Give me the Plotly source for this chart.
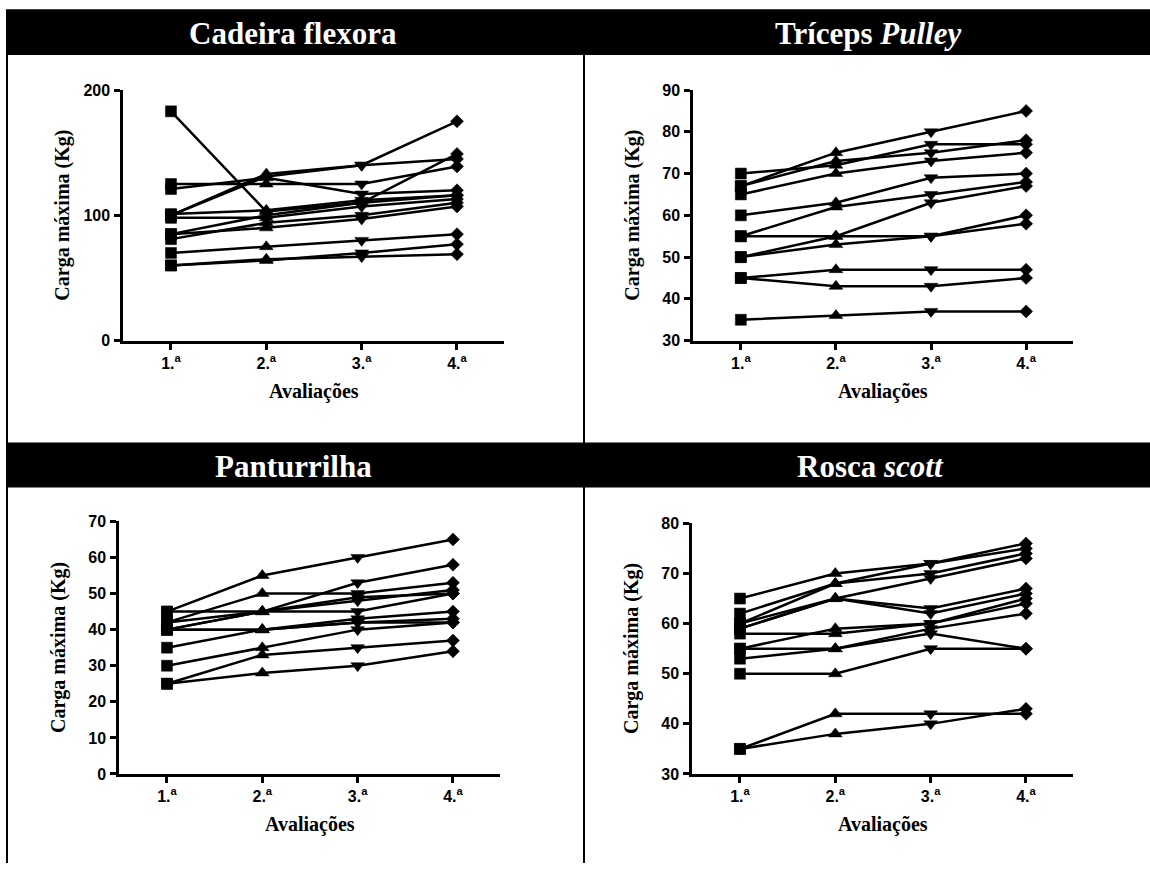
import plotly.graph_objects as go

# Evaluation labels (1st..4th assessment)
avaliacoes = [1, 2, 3, 4]
avaliacao_labels = ["1.<sup>a</sup>", "2.<sup>a</sup>", "3.<sup>a</sup>", "4.<sup>a</sup>"]

# Maximum load (kg) per subject across the four assessments
cadeira_flexora = [
    [183, 103, 110, 149],
    [100, 133, 140, 175],
    [100, 131, 140, 145],
    [121, 130, 117, 120],
    [125, 125, 125, 139],
    [101, 104, 112, 116],
    [98, 98, 107, 113],
    [85, 100, 110, 116],
    [81, 94, 100, 110],
    [85, 90, 97, 107],
    [70, 75, 80, 85],
    [60, 64, 70, 77],
    [60, 65, 67, 69],
]

triceps_pulley = [
    [67, 75, 80, 85],
    [70, 72, 77, 77],
    [67, 73, 75, 78],
    [65, 70, 73, 75],
    [60, 63, 69, 70],
    [55, 62, 65, 68],
    [50, 55, 63, 67],
    [55, 55, 55, 60],
    [50, 53, 55, 58],
    [45, 47, 47, 47],
    [45, 43, 43, 45],
    [35, 36, 37, 37],
]

panturrilha = [
    [45, 55, 60, 65],
    [40, 45, 53, 58],
    [42, 50, 50, 53],
    [40, 45, 48, 51],
    [42, 45, 49, 50],
    [45, 45, 45, 50],
    [40, 40, 43, 45],
    [40, 40, 42, 42],
    [35, 40, 42, 43],
    [30, 35, 40, 42],
    [25, 33, 35, 37],
    [25, 28, 30, 34],
]

rosca_scott = [
    [65, 70, 72, 76],
    [62, 68, 72, 75],
    [60, 68, 70, 74],
    [59, 65, 69, 73],
    [60, 65, 63, 67],
    [59, 65, 62, 66],
    [58, 58, 60, 65],
    [55, 59, 60, 64],
    [55, 55, 58, 55],
    [53, 55, 59, 62],
    [50, 50, 55, 55],
    [35, 42, 42, 42],
    [35, 38, 40, 43],
]

W, H = 1150, 872
# vertical layout: the page adds an 8px body margin above and below the figure
BODY_M = 8
V_SCALE = H / (H + 2 * BODY_M)


def px(x):
    return x / W


def py(y):
    fy = y / V_SCALE - BODY_M
    return max(0.0, min(1.0, 1 - fy / H))


# panel: (data, title, x-left, x-right, y-top, y-bottom, y-range, y-ticks)
panels = [
    (cadeira_flexora, "<b>Cadeira flexora</b>", 123.3, 503.7, 90, 341, [0, 200], [0, 100, 200]),
    (triceps_pulley, "<b>Tríceps <i>Pulley</i></b>", 693.3, 1072.7, 90, 341, [30, 90], list(range(30, 91, 10))),
    (panturrilha, "<b>Panturrilha</b>", 119.3, 499.7, 522, 775, [0, 70], list(range(0, 71, 10))),
    (rosca_scott, "<b>Rosca <i>scott</i></b>", 692.3, 1072.7, 524, 775, [30, 80], list(range(30, 81, 10))),
]

symbols = ["square", "triangle-up", "triangle-down", "diamond"]
sizes = [11, 12, 12, 10]

fig = go.Figure()
layout = dict(
    width=W, height=H,
    margin=dict(l=0, r=0, t=0, b=0),
    paper_bgcolor="white", plot_bgcolor="white",
    showlegend=False,
)

annotations = []
shapes = []
serif = "Liberation Serif"
sans = "Liberation Sans"

for i, (data, title, xl, xr, yt, yb, yr, yt_vals) in enumerate(panels):
    n = "" if i == 0 else str(i + 1)
    for subj in data:
        fig.add_trace(go.Scatter(
            x=avaliacoes, y=subj, mode="lines+markers",
            line=dict(color="black", width=2.5),
            marker=dict(symbol=symbols, size=sizes, color="black", opacity=1,
                        line=dict(color="black", width=0.5)),
            xaxis="x" + n, yaxis="y" + n, cliponaxis=False,
        ))
    layout["xaxis" + n] = dict(
        domain=[px(xl), px(xr)], range=[0.5, 4.49], anchor="y" + n,
        showgrid=False, zeroline=False, showline=True, linecolor="black", linewidth=3,
        ticks="outside", ticklen=6, tickwidth=2.5, tickcolor="black",
        tickvals=avaliacoes, ticktext=avaliacao_labels,
        tickfont=dict(family=sans, size=16, color="black", weight="bold"),
        fixedrange=True,
    )
    layout["yaxis" + n] = dict(
        domain=[py(yb), py(yt)], range=yr, anchor="x" + n,
        showgrid=False, zeroline=False, showline=True, linecolor="black", linewidth=3,
        ticks="outside", ticklen=6, tickwidth=2.5, tickcolor="black",
        tickvals=yt_vals, ticklabelstandoff=1,
        tickfont=dict(family=sans, size=16, color="black", weight="bold"),
        fixedrange=True,
    )
    # axis titles
    annotations.append(dict(
        x=px((xl + xr) / 2), y=py(yb + 51), xref="paper", yref="paper",
        text="<b>Avaliações</b>", showarrow=False,
        font=dict(family=serif, size=20, color="black"),
        xanchor="center", yanchor="middle",
    ))
    annotations.append(dict(
        x=px(xl - 61), y=py((yt + yb) / 2), xref="paper", yref="paper",
        text="<b>Carga máxima (Kg)</b>", showarrow=False, textangle=-90,
        font=dict(family=serif, size=20, color="black"),
        xanchor="center", yanchor="middle",
    ))

# title bars
bar_rows = [(9, 55), (443, 488)]
for (y0, y1) in bar_rows:
    shapes.append(dict(type="rect", xref="paper", yref="paper",
                       x0=px(6), x1=1, y0=py(y1), y1=py(y0),
                       fillcolor="black", line=dict(width=0)))

title_pos = [(293, 33), (868, 33), (293, 467), (870, 467)]
for (p, (tx, ty)) in zip(panels, title_pos):
    annotations.append(dict(
        x=px(tx), y=py(ty), xref="paper", yref="paper", text=p[1], showarrow=False,
        font=dict(family=serif, size=31, color="white"),
        xanchor="center", yanchor="middle",
    ))

# panel frame lines
shapes.append(dict(type="line", xref="paper", yref="paper",
                   x0=px(7), x1=px(7), y0=py(55), y1=0, line=dict(color="black", width=2)))
shapes.append(dict(type="line", xref="paper", yref="paper",
                   x0=px(584), x1=px(584), y0=py(55), y1=0, line=dict(color="black", width=2)))

layout["annotations"] = annotations
layout["shapes"] = shapes
fig.update_layout(**layout)

fig.write_html("out.html")
